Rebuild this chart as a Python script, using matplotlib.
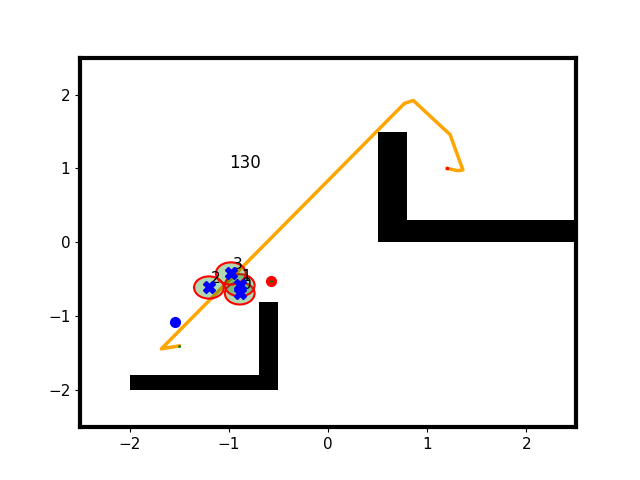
import matplotlib
matplotlib.use("Agg")
import matplotlib.pyplot as plt
from matplotlib.patches import Rectangle, Circle

plt.rcParams["font.size"] = 11

# obstacles: (x, y, width, height)
obst_x = [0.5, 0.5, -2.0, -0.7]
obst_y = [0.0, 0.0, -2.0, -2.0]
obst_w = [0.3, 2.0, 1.5, 0.2]
obst_h = [1.5, 0.3, 0.2, 1.2]

# trajectory
path_x = [-1.50, -1.68, 0.77, 0.86, 1.14, 1.23, 1.36, 1.31, 1.20]
path_y = [-1.40, -1.44, 1.88, 1.92, 1.57, 1.46, 0.98, 0.97, 1.00]

# clusters
cl_x = [-0.89, -0.89, -1.20, -0.98]
cl_y = [-0.69, -0.58, -0.61, -0.42]
cl_lab = ["0", "1", "2", "3"]
cl_r = 0.15

robot = (-1.545, -1.08)
target = (-0.576, -0.52)

fig, ax = plt.subplots(figsize=(6.4, 4.8), dpi=100)

for x, y, w, h in zip(obst_x, obst_y, obst_w, obst_h):
    ax.add_patch(Rectangle((x, y), w, h, facecolor="black", edgecolor="none"))

ax.plot(path_x, path_y, color="orange", lw=2.5, zorder=1)
ax.plot(path_x[0], path_y[0], ".", color="green", ms=2)
ax.plot(path_x[-1], path_y[-1], ".", color="red", ms=3)

for x, y in zip(cl_x, cl_y):
    ax.add_patch(Circle((x, y), cl_r, facecolor=(0, 0.5, 0, 0.3), edgecolor="red",
                        lw=1.5, zorder=2))
for x, y, lab in zip(cl_x, cl_y, cl_lab):
    ax.text(x + 0.02, y + 0.06, lab, fontsize=11, zorder=3)
    ax.plot(x, y, "X", color="blue", ms=8, zorder=4)

ax.plot(robot[0], robot[1], "o", color="blue", ms=7)
ax.plot(target[0], target[1], "o", color="red", ms=7)
ax.plot(target[0], target[1], ".", color="green", ms=2)

ax.text(-1.0, 1.0, "130", fontsize=12)

ax.set_xlim(-2.5, 2.5)
ax.set_ylim(-2.5, 2.5)
ax.set_xticks([-2, -1, 0, 1, 2])
ax.set_yticks([-2, -1, 0, 1, 2])
for s in ax.spines.values():
    s.set_linewidth(3)

plt.savefig("out.png", dpi=100)
